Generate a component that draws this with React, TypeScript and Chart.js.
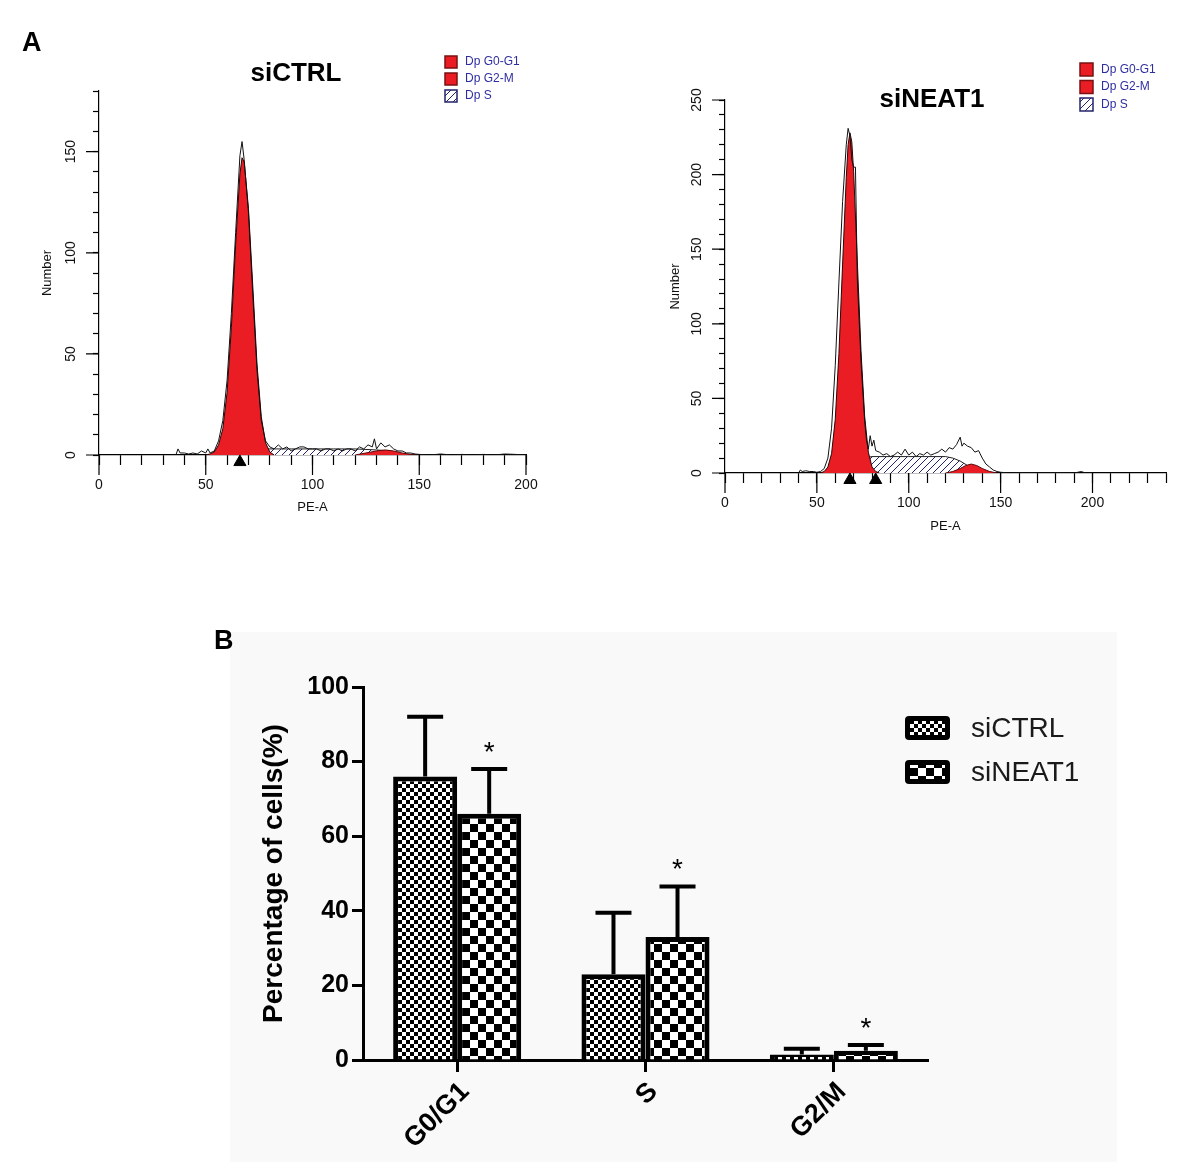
import { useEffect, useRef } from "react";
import { Chart, registerables } from "chart.js";

Chart.register(...registerables);

// ---------- panel A: DNA content histograms (PE-A vs cell number) ----------
const ctrlRawX = [36, 37, 38, 40, 42, 44, 46, 48, 50, 51, 52, 54,
  56, 58, 60, 62, 64, 66, 67, 68,
  70, 72, 74, 76, 78, 80, 82, 84, 86, 88, 90, 92, 94, 96, 98,
  100, 102, 104, 106, 108, 110, 112, 114, 116, 118, 120, 122, 124, 126, 128, 129,
  130, 132, 134, 136, 138, 140, 142, 144, 146, 148, 150,
  155, 160, 165, 170, 175, 180, 185, 190, 195, 200];
const ctrlRawY = [0, 3, 1, 1, 0.5, 1, 0.5, 2, 1, 3, 1, 2,
  7, 17, 37, 70, 110, 148, 155, 146,
  120, 80, 42, 17, 7, 4, 3, 5, 3, 4, 2, 3, 4, 4, 3,
  3, 3, 2, 3, 3, 2, 3, 2, 3, 3, 2, 4, 3, 5, 4, 8,
  3, 6, 4, 5, 3, 2, 2, 1, 1, 0.5, 0.3,
  0, 0.5, 0, 0.3, 0, 0.3, 0, 0.5, 0.3, 0];
const ctrlG1X = [50, 52, 54, 56, 58, 60, 62, 64, 66, 67, 68, 70, 72, 74, 76, 78, 80, 82];
const ctrlG1Y = [0, 0.5, 1.5, 5, 13, 31, 63, 104, 139, 147, 145, 122, 84, 45, 19, 6, 1.5, 0];
const ctrlSX = [60, 64, 68, 72, 76, 80, 90, 100, 110, 120, 130, 136, 140, 145];
const ctrlSY = [0, 0.5, 1.5, 2.5, 3, 3, 3, 3, 3, 3, 2.5, 2, 1, 0];
const ctrlG2X = [120, 125, 130, 134, 138, 142, 146, 150];
const ctrlG2Y = [0, 1, 2, 2.5, 2, 1, 0.3, 0];
const ctrlMarkers = [66];

const neatRawX = [40, 41, 42, 44, 46, 48, 50, 52, 54, 56, 58, 60, 62, 64, 66,
  67, 68, 69, 70, 71, 72, 74, 76, 77, 78, 79, 80, 81, 82,
  84, 86, 88, 90, 92, 94, 96, 98, 100, 102, 104, 106, 108, 110, 112, 114, 116, 118,
  120, 122, 124, 126, 128, 129,
  130, 132, 134, 136, 138, 140, 142, 144, 146, 148, 150,
  155, 160, 170, 180, 190, 194, 196, 200];
const neatRawY = [0, 2, 1, 1.5, 1, 1, 0.5, 1, 3, 10, 30, 72, 128, 182, 220,
  231, 226, 210, 205, 205, 130, 75, 35, 22, 16, 25, 18, 22, 15,
  14, 12, 13, 11, 12, 14, 12, 16, 12, 14, 11, 13, 12, 14, 12, 13, 14, 16,
  14, 17, 16, 19, 24, 18,
  20, 18, 17, 14, 15, 10, 6, 4, 2, 1, 0.5,
  0, 0.3, 0, 0.3, 0, 1, 0, 0];
const neatG1X = [52, 54, 56, 58, 60, 62, 64, 66, 67, 68, 69, 70, 72, 74, 76, 78, 80, 82, 84];
const neatG1Y = [0, 1, 4, 13, 36, 80, 140, 198, 220, 228, 222, 202, 142, 82, 38, 14, 4, 1, 0];
const neatSX = [56, 60, 64, 68, 72, 76, 80, 90, 100, 110, 120, 124, 128, 132, 136, 140, 144, 148];
const neatSY = [0, 1, 2.5, 5, 8, 10, 11, 11, 11, 11, 11, 10, 8, 5, 3, 1.5, 0.5, 0];
const neatG2X = [120, 124, 128, 131, 134, 137, 140, 144, 148];
const neatG2Y = [0, 1, 3, 5, 6, 5, 3, 1, 0];
const neatMarkers = [68, 82];

const histLegend = ["Dp G0-G1", "Dp G2-M", "Dp S"];

// ---------- panel B: cell-cycle distribution ----------
const phases = ["G0/G1", "S", "G2/M"];
const groups = ["siCTRL", "siNEAT1"];
const ctrlMean = [76, 23, 1.5];
const ctrlSd = [16, 16.5, 1.5];
const neatMean = [66, 33, 2.5];
const neatSd = [12, 13.5, 1.5];
const neatStar = ["*", "*", "*"];

const FONT = "'Liberation Sans', Arial, sans-serif";
const RED = "#ea1d25";
const NAVY = "#24246e";

const pts = (xs: number[], ys: number[]) => xs.map((x, i) => ({ x, y: ys[i] }));

function hatchPattern(): CanvasPattern {
  const c = document.createElement("canvas");
  c.width = 7;
  c.height = 7;
  const g = c.getContext("2d")!;
  g.fillStyle = "#fff";
  g.fillRect(0, 0, 7, 7);
  g.strokeStyle = NAVY;
  g.lineWidth = 1;
  g.beginPath();
  g.moveTo(0, 7); g.lineTo(7, 0);
  g.moveTo(-1, 1); g.lineTo(1, -1);
  g.moveTo(6, 8); g.lineTo(8, 6);
  g.stroke();
  return g.createPattern(c, "repeat")!;
}

function checkerPattern(cell: number): CanvasPattern {
  const c = document.createElement("canvas");
  c.width = cell * 2;
  c.height = cell * 2;
  const g = c.getContext("2d")!;
  g.fillStyle = "#fff";
  g.fillRect(0, 0, cell * 2, cell * 2);
  g.fillStyle = "#000";
  g.fillRect(0, 0, cell, cell);
  g.fillRect(cell, cell, cell, cell);
  return g.createPattern(c, "repeat")!;
}

// long major ticks, rotated y labels, panel title and the ModFit-style legend
const histExtras = {
  id: "histExtras",
  afterDraw(chart: any, _args: any, opts: any) {
    const { ctx, chartArea } = chart;
    const xs = chart.scales.x;
    const ys = chart.scales.y;
    ctx.save();
    ctx.strokeStyle = "#000";
    ctx.lineWidth = 1.2;
    ctx.beginPath();
    xs.ticks.forEach((t: any) => {
      if (t.value % 50 !== 0) return;
      const px = xs.getPixelForValue(t.value);
      ctx.moveTo(px, chartArea.bottom);
      ctx.lineTo(px, chartArea.bottom + 20);
    });
    ys.ticks.forEach((t: any) => {
      if (t.value % 50 !== 0) return;
      const py = ys.getPixelForValue(t.value);
      ctx.moveTo(chartArea.left - 13, py);
      ctx.lineTo(chartArea.left, py);
    });
    ctx.stroke();

    ctx.fillStyle = "#111";
    ctx.font = `14px ${FONT}`;
    ctx.textAlign = "center";
    ctx.textBaseline = "middle";
    ys.ticks.forEach((t: any) => {
      if (t.value % 50 !== 0) return;
      ctx.save();
      ctx.translate(chartArea.left - 28, ys.getPixelForValue(t.value));
      ctx.rotate(-Math.PI / 2);
      ctx.fillText(String(t.value), 0, 0);
      ctx.restore();
    });

    ctx.font = `bold 26px ${FONT}`;
    ctx.fillStyle = "#000";
    ctx.fillText(opts.title, opts.titleX, opts.titleY);

    ctx.textAlign = "left";
    ctx.font = `12px ${FONT}`;
    histLegend.forEach((label, i) => {
      const bx = opts.legendX;
      const by = opts.legendY + i * opts.legendGap;
      const s = opts.legendBox;
      if (i < 2) {
        ctx.fillStyle = RED;
        ctx.fillRect(bx, by, s, s);
        ctx.strokeStyle = "#7a1010";
      } else {
        ctx.fillStyle = opts.hatch;
        ctx.fillRect(bx, by, s, s);
        ctx.strokeStyle = NAVY;
      }
      ctx.lineWidth = 1.5;
      ctx.strokeRect(bx, by, s, s);
      ctx.fillStyle = "#2e2ea0";
      ctx.fillText(label, bx + s + 8, by + s / 2);
    });
    ctx.restore();
  },
};

type HistSpec = {
  title: string;
  raw: { x: number; y: number }[];
  g1: { x: number; y: number }[];
  s: { x: number; y: number }[];
  g2: { x: number; y: number }[];
  markers: number[];
  markerY: number;
  xMax: number;
  yMax: number;
  box: { left: number; top: number; width: number; height: number };
  area: { left: number; top: number; right: number; bottom: number };
  yTitlePad: number;
  xTitlePad: number;
  titleX: number;
  titleY: number;
  legendX: number;
  legendY: number;
  legendGap: number;
  legendBox: number;
};

function Histogram({ spec }: { spec: HistSpec }) {
  const ref = useRef<HTMLCanvasElement>(null);

  useEffect(() => {
    if (!ref.current) return;
    const hatch = hatchPattern();
    const { box, area } = spec;
    const chart = new Chart(ref.current, {
      type: "line",
      data: {
        datasets: [
          { label: "raw", data: spec.raw, borderColor: "#111", borderWidth: 1, pointRadius: 0, fill: false, order: 0 },
          { label: "Dp G0-G1", data: spec.g1, borderColor: "#2a0505", borderWidth: 1, backgroundColor: RED, pointRadius: 0, fill: "origin", order: 1 },
          { label: "Dp G2-M", data: spec.g2, borderColor: "#5a0a0a", borderWidth: 1, backgroundColor: RED, pointRadius: 0, fill: "origin", order: 2 },
          { label: "Dp S", data: spec.s, borderColor: "#222", borderWidth: 1, backgroundColor: hatch, pointRadius: 0, fill: "origin", order: 3 },
          {
            label: "peaks",
            data: spec.markers.map((x) => ({ x, y: spec.markerY })),
            showLine: false,
            pointStyle: "triangle",
            pointRadius: 7,
            pointBackgroundColor: "#000",
            pointBorderColor: "#000",
            clip: false as any,
            order: -1,
          },
        ],
      },
      options: {
        responsive: true,
        maintainAspectRatio: false,
        animation: false,
        events: [],
        layout: { padding: { left: 0, top: area.top, right: box.width - area.right, bottom: 0 } },
        plugins: {
          legend: { display: false },
          tooltip: { enabled: false },
          histExtras: {
            title: spec.title,
            titleX: spec.titleX,
            titleY: spec.titleY,
            legendX: spec.legendX,
            legendY: spec.legendY,
            legendGap: spec.legendGap,
            legendBox: spec.legendBox,
            hatch,
          },
        } as any,
        scales: {
          x: {
            type: "linear",
            min: 0,
            max: spec.xMax,
            afterFit: (s: any) => { s.height = box.height - area.bottom; },
            border: { color: "#000", width: 1.2 },
            grid: { drawOnChartArea: false, tickLength: 10, tickColor: "#000", tickWidth: 1.2 },
            ticks: {
              stepSize: 10,
              autoSkip: false,
              maxRotation: 0,
              callback: (v: any) => (v % 50 === 0 ? String(v) : ""),
              font: { family: FONT, size: 14 },
              color: "#111",
              padding: 12,
            },
            title: {
              display: true,
              text: "PE-A",
              font: { family: FONT, size: 13 },
              color: "#111",
              padding: { top: 0, bottom: spec.xTitlePad },
            },
          },
          y: {
            min: 0,
            max: spec.yMax,
            afterFit: (s: any) => { s.width = area.left; },
            border: { color: "#000", width: 1.2 },
            grid: { drawOnChartArea: false, tickLength: 6, tickColor: "#000", tickWidth: 1.2 },
            ticks: { stepSize: 10, autoSkip: false, callback: () => "" },
            title: {
              display: true,
              text: "Number",
              font: { family: FONT, size: 13 },
              color: "#111",
              padding: { top: spec.yTitlePad, bottom: 0 },
            },
          },
        },
      },
      plugins: [histExtras],
    });
    return () => { chart.destroy(); };
  }, [spec]);

  const { box } = spec;
  return (
    <div style={{ position: "absolute", left: box.left, top: box.top, width: box.width, height: box.height }}>
      <canvas ref={ref} />
    </div>
  );
}

const ctrlSpec: HistSpec = {
  title: "siCTRL",
  raw: pts(ctrlRawX, ctrlRawY),
  g1: pts(ctrlG1X, ctrlG1Y),
  s: pts(ctrlSX, ctrlSY),
  g2: pts(ctrlG2X, ctrlG2Y),
  markers: ctrlMarkers,
  markerY: -3.5,
  xMax: 200,
  yMax: 180,
  box: { left: 0, top: 30, width: 560, height: 500 },
  area: { left: 99, top: 61, right: 526, bottom: 425 },
  yTitlePad: 40,
  xTitlePad: 15,
  titleX: 296,
  titleY: 44,
  legendX: 445,
  legendY: 26,
  legendGap: 17,
  legendBox: 12,
};

const neatSpec: HistSpec = {
  title: "siNEAT1",
  raw: pts(neatRawX, neatRawY),
  g1: pts(neatG1X, neatG1Y),
  s: pts(neatSX, neatSY),
  g2: pts(neatG2X, neatG2Y),
  markers: neatMarkers,
  markerY: -4.7,
  xMax: 240,
  yMax: 250,
  box: { left: 600, top: 50, width: 583, height: 500 },
  area: { left: 125, top: 50, right: 566, bottom: 423 },
  yTitlePad: 68,
  xTitlePad: 16,
  titleX: 332,
  titleY: 50,
  legendX: 480,
  legendY: 13,
  legendGap: 17.5,
  legendBox: 13,
};

// error bars (upper only), significance stars and the boxed legend
const barExtras = {
  id: "barExtras",
  afterDatasetsDraw(chart: any, _args: any, opts: any) {
    const { ctx } = chart;
    const ys = chart.scales.y;
    const sds = [ctrlSd, neatSd];
    const stars = [[], neatStar];
    ctx.save();
    ctx.strokeStyle = "#000";
    ctx.fillStyle = "#000";
    chart.data.datasets.forEach((ds: any, i: number) => {
      const meta = chart.getDatasetMeta(i);
      meta.data.forEach((bar: any, j: number) => {
        const top = ys.getPixelForValue(ds.data[j] + sds[i][j]);
        ctx.lineWidth = 4;
        ctx.beginPath();
        ctx.moveTo(bar.x, bar.y);
        ctx.lineTo(bar.x, top);
        ctx.moveTo(bar.x - 18, top);
        ctx.lineTo(bar.x + 18, top);
        ctx.stroke();
        const star = (stars[i] as string[])[j];
        if (star) {
          ctx.font = `28px ${FONT}`;
          ctx.textAlign = "center";
          ctx.textBaseline = "middle";
          ctx.fillText(star, bar.x, top - 16);
        }
      });
    });

    chart.data.datasets.forEach((ds: any, i: number) => {
      const bx = opts.legendX;
      const by = opts.legendY + i * opts.legendGap;
      ctx.fillStyle = "#000";
      ctx.beginPath();
      ctx.roundRect(bx, by, 45, 24, 4);
      ctx.fill();
      ctx.fillStyle = ds.backgroundColor;
      ctx.fillRect(bx + 5, by + 5, 35, 14);
      ctx.fillStyle = "#1a1a1a";
      ctx.font = `28px ${FONT}`;
      ctx.textAlign = "left";
      ctx.textBaseline = "middle";
      ctx.fillText(ds.label, bx + 66, by + 13);
    });
    ctx.restore();
  },
};

function CycleBars() {
  const ref = useRef<HTMLCanvasElement>(null);

  useEffect(() => {
    if (!ref.current) return;
    const chart = new Chart(ref.current, {
      type: "bar",
      data: {
        labels: phases,
        datasets: [
          {
            label: groups[0],
            data: ctrlMean,
            backgroundColor: checkerPattern(4),
            borderColor: "#000",
            borderWidth: 5,
            barPercentage: 1,
            categoryPercentage: 0.68,
          },
          {
            label: groups[1],
            data: neatMean,
            backgroundColor: checkerPattern(8),
            borderColor: "#000",
            borderWidth: 5,
            barPercentage: 1,
            categoryPercentage: 0.68,
          },
        ],
      },
      options: {
        responsive: true,
        maintainAspectRatio: false,
        animation: false,
        events: [],
        layout: { padding: { left: 0, top: 55, right: 189, bottom: 0 } },
        plugins: {
          legend: { display: false },
          tooltip: { enabled: false },
          barExtras: { legendX: 675, legendY: 84, legendGap: 44 },
        } as any,
        scales: {
          x: {
            afterFit: (s: any) => { s.height = 102; },
            border: { color: "#000", width: 3 },
            grid: { offset: false, drawOnChartArea: false, tickLength: 12, tickWidth: 3, tickColor: "#000" },
            ticks: {
              font: { family: FONT, size: 27, weight: "bold" },
              color: "#000",
              minRotation: 45,
              maxRotation: 45,
              padding: 4,
              labelOffset: 8,
            },
          },
          y: {
            min: 0,
            max: 100,
            afterFit: (s: any) => { s.width = 133; },
            border: { color: "#000", width: 3 },
            grid: { drawOnChartArea: false, tickLength: 11, tickWidth: 3, tickColor: "#000" },
            ticks: {
              stepSize: 20,
              font: { family: FONT, size: 25, weight: "bold" },
              color: "#000",
              padding: 3,
            },
            title: {
              display: true,
              text: "Percentage of cells(%)",
              font: { family: FONT, size: 28, weight: "bold" },
              color: "#000",
              padding: { top: 27, bottom: 0 },
            },
          },
        },
      },
      plugins: [barExtras],
    });
    return () => { chart.destroy(); };
  }, []);

  return (
    <div style={{ position: "absolute", left: 230, top: 632, width: 887, height: 530, background: "#f9f9f9" }}>
      <canvas ref={ref} />
    </div>
  );
}

const panelLabel = { position: "absolute" as const, zIndex: 2, fontFamily: FONT, fontWeight: "bold" as const, fontSize: 27, lineHeight: "27px", color: "#000" };

export default function App() {
  return (
    <div style={{ position: "absolute", left: 0, top: 0, width: 1183, height: 1175, background: "#fff", overflow: "hidden" }}>
      <Histogram spec={ctrlSpec} />
      <Histogram spec={neatSpec} />
      <CycleBars />
      <div style={{ ...panelLabel, left: 22, top: 29 }}>A</div>
      <div style={{ ...panelLabel, left: 214, top: 627 }}>B</div>
    </div>
  );
}
